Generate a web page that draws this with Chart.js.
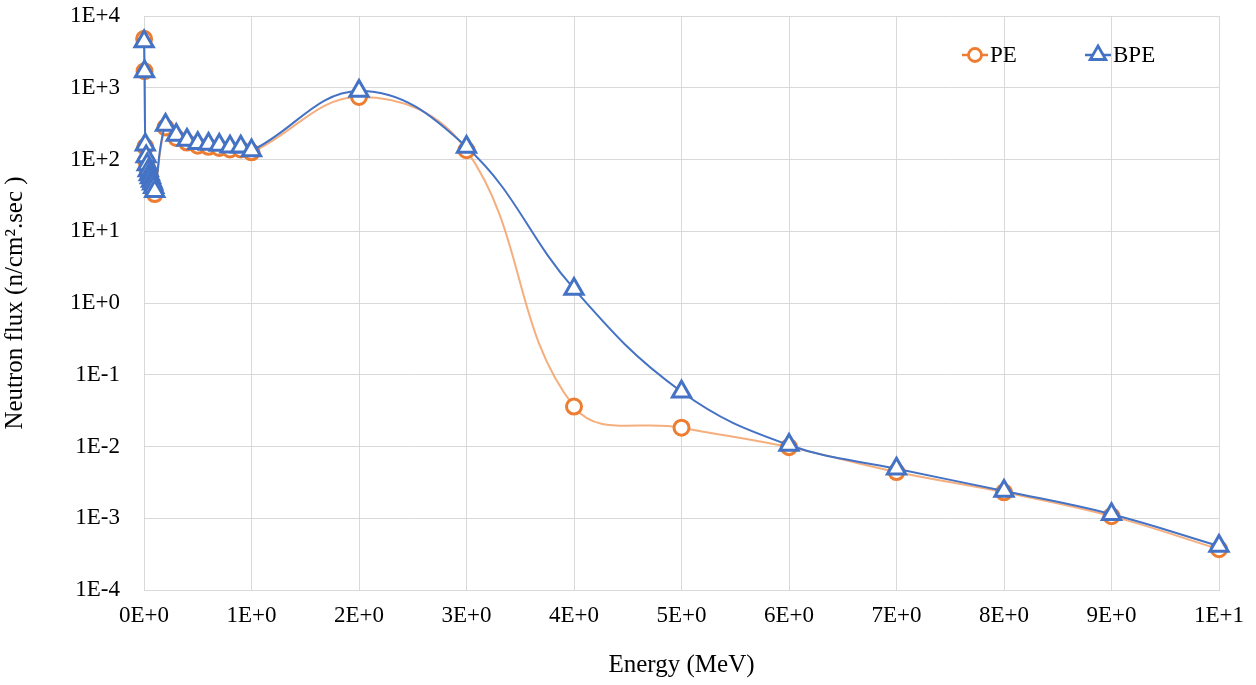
<!DOCTYPE html>
<html>
<head>
<meta charset="utf-8">
<title>Neutron flux vs energy</title>
<script src="https://cdn.jsdelivr.net/npm/chart.js@4.4.1/dist/chart.umd.min.js"></script>
<style>
  html, body { margin: 0; padding: 0; background: #ffffff; }
  #wrap { width: 1256px; height: 685px; }
</style>
</head>
<body>
<div id="wrap"><canvas id="c" width="1256" height="685"></canvas></div>
<script>
// Neutron energy (MeV)
const energy = [0.001, 0.005, 0.012, 0.02, 0.03, 0.04, 0.05, 0.06, 0.07, 0.08, 0.09, 0.1,
                0.2, 0.3, 0.4, 0.5, 0.6, 0.7, 0.8, 0.9, 1, 2, 3, 4, 5, 6, 7, 8, 9, 10];

// Neutron flux (n/cm2.sec) behind polyethylene
const fluxPE = [4800, 1700, 150, 95, 75, 62, 55, 50, 45, 42, 38, 33,
                280, 200, 172, 156, 150, 145, 138, 138, 126, 743, 135, 0.036, 0.0183,
                0.0098, 0.0044, 0.0023, 0.00107, 0.00037];

// Neutron flux (n/cm2.sec) behind borated polyethylene
const fluxBPE = [4400, 1680, 160, 110, 85, 70, 62, 56, 50, 46, 41, 36,
                 303, 219, 187, 168, 164, 159, 151, 151, 133, 902, 149, 1.57, 0.058,
                 0.0105, 0.0049, 0.0024, 0.00114, 0.00041];

const xTickLabels = ['0E+0', '1E+0', '2E+0', '3E+0', '4E+0', '5E+0', '6E+0', '7E+0', '8E+0', '9E+0', '1E+1'];
const yTickLabels = ['1E-4', '1E-3', '1E-2', '1E-1', '1E+0', '1E+1', '1E+2', '1E+3', '1E+4'];

const seriesNames = ['PE', 'BPE'];
const ORANGE = '#ED7D31';
const ORANGE_LINE = 'rgba(244, 165, 112, 0.9)';
const BLUE = '#4472C4';
const GRID = '#d9d9d9';
const FONT = '"Liberation Serif", "Times New Roman", serif';

const toPoints = (ys) => energy.map((e, i) => ({ x: e, y: ys[i] }));

// Legend drawn inside the plot area, line + marker + name
const insideLegend = {
  id: 'insideLegend',
  afterDraw(chart) {
    const ctx = chart.ctx;
    const items = [
      { name: seriesNames[0], color: ORANGE, shape: 'circle', cx: 975 },
      { name: seriesNames[1], color: BLUE, shape: 'triangle', cx: 1098 }
    ];
    const cy = 55;
    ctx.save();
    items.forEach(it => {
      ctx.strokeStyle = it.color;
      ctx.lineWidth = 2.5;
      ctx.beginPath();
      ctx.moveTo(it.cx - 13, cy);
      ctx.lineTo(it.cx + 13, cy);
      ctx.stroke();
      ctx.fillStyle = '#ffffff';
      ctx.lineWidth = 2.8;
      ctx.beginPath();
      if (it.shape === 'circle') {
        ctx.arc(it.cx, cy, 6.5, 0, Math.PI * 2);
      } else {
        const r = 9;
        ctx.moveTo(it.cx, cy - r);
        ctx.lineTo(it.cx + r * Math.sin(Math.PI * 2 / 3), cy - r * Math.cos(Math.PI * 2 / 3));
        ctx.lineTo(it.cx + r * Math.sin(Math.PI * 4 / 3), cy - r * Math.cos(Math.PI * 4 / 3));
        ctx.closePath();
      }
      ctx.fill();
      ctx.stroke();
      ctx.fillStyle = '#000000';
      ctx.font = '23px ' + FONT;
      ctx.textAlign = 'left';
      ctx.textBaseline = 'middle';
      ctx.fillText(it.name, it.cx + 15, cy + 1);
    });
    ctx.restore();
  }
};

new Chart(document.getElementById('c'), {
  type: 'line',
  data: {
    datasets: [
      {
        label: seriesNames[0],
        data: toPoints(fluxPE),
        borderColor: ORANGE_LINE,
        borderWidth: 2,
        pointStyle: 'circle',
        pointRadius: 7.5,
        pointBorderWidth: 3,
        pointBorderColor: ORANGE,
        pointBackgroundColor: '#ffffff',
        tension: 0.4,
        clip: false,
        order: 2
      },
      {
        label: seriesNames[1],
        data: toPoints(fluxBPE),
        borderColor: BLUE,
        borderWidth: 2,
        pointStyle: 'triangle',
        pointRadius: 10.5,
        pointBorderWidth: 3,
        pointBorderColor: BLUE,
        pointBackgroundColor: '#ffffff',
        tension: 0.4,
        clip: false,
        order: 1
      }
    ]
  },
  options: {
    responsive: false,
    animation: false,
    layout: { padding: { left: 0, top: 16, right: 37, bottom: 0 } },
    plugins: {
      legend: { display: false },
      tooltip: { enabled: false }
    },
    scales: {
      x: {
        type: 'linear',
        min: 0,
        max: 10,
        afterFit(scale) {
          scale.height = 95;
          scale.paddingLeft = 0;
          scale.paddingRight = 0;
        },
        afterBuildTicks(scale) {
          scale.ticks = xTickLabels.map((_, i) => ({ value: i }));
        },
        ticks: {
          autoSkip: false,
          maxRotation: 0,
          padding: 12,
          color: '#000000',
          font: { family: FONT, size: 23 },
          callback: (v) => xTickLabels[Math.round(v)]
        },
        grid: { color: GRID, lineWidth: 1, drawTicks: false },
        border: { display: true, color: GRID },
        title: {
          display: true,
          text: 'Energy (MeV)',
          color: '#000000',
          font: { family: FONT, size: 25 },
          padding: { top: 0, bottom: 5 }
        }
      },
      y: {
        type: 'logarithmic',
        min: 1e-4,
        max: 1e4,
        afterFit(scale) {
          scale.width = 144;
          scale.paddingTop = 0;
          scale.paddingBottom = 0;
        },
        afterBuildTicks(scale) {
          scale.ticks = yTickLabels.map((_, i) => ({ value: Math.pow(10, i - 4) }));
        },
        ticks: {
          autoSkip: false,
          padding: 24,
          color: '#000000',
          font: { family: FONT, size: 23 },
          callback: (v) => yTickLabels[Math.round(Math.log10(v)) + 4]
        },
        grid: { color: GRID, lineWidth: 1, drawTicks: false },
        border: { display: true, color: GRID },
        title: {
          display: true,
          text: 'Neutron flux (n/cm².sec )',
          color: '#000000',
          font: { family: FONT, size: 25 },
          padding: { top: 0, bottom: 8 }
        }
      }
    }
  },
  plugins: [insideLegend]
});
</script>
</body>
</html>
